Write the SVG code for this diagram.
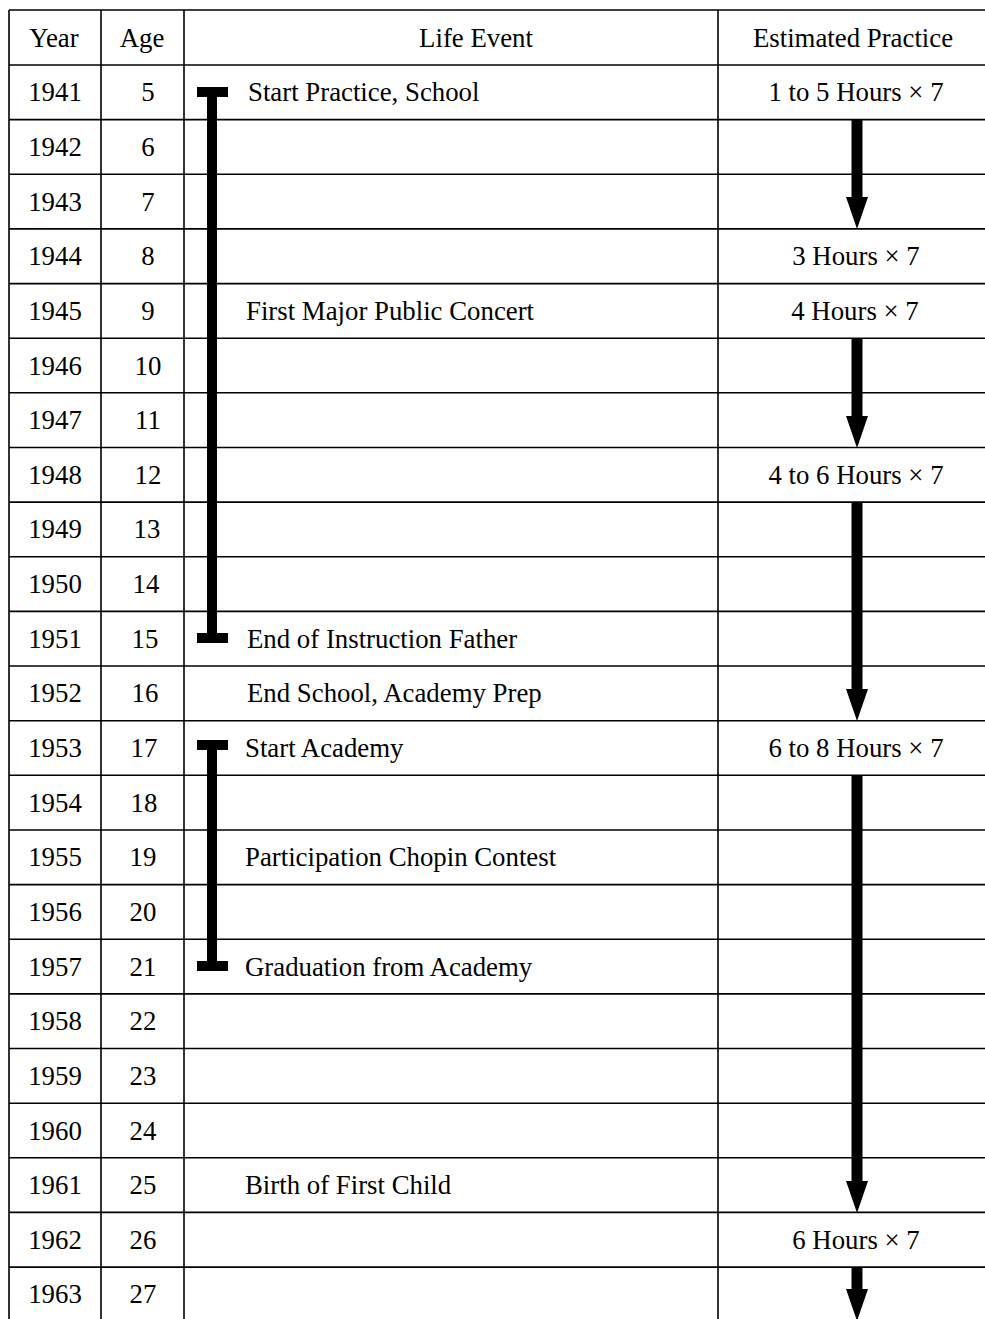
<svg xmlns="http://www.w3.org/2000/svg" width="985" height="1319" viewBox="0 0 985 1319">
<style>
text{font-family:"Liberation Serif","Times New Roman",serif;font-size:26.8px;fill:#000}
.c{text-anchor:middle}
.grid line{stroke:#000;stroke-width:1.6}
.bar{fill:#000}
.arr{stroke:#000;stroke-width:11;fill:none}
</style>
<defs>
<marker id="ah" markerUnits="userSpaceOnUse" viewBox="0 0 32 22" refX="0" refY="11" markerWidth="32" markerHeight="22" orient="auto">
<path d="M0,0 L32,11 L0,22 Z" fill="#000"/>
</marker>
</defs>
<rect width="985" height="1319" fill="#fff"/>
<g id="grid" class="grid">
<line x1="9" y1="10" x2="985" y2="10"/>
<line x1="9" y1="65" x2="985" y2="65"/>
<line x1="9" y1="119.6" x2="985" y2="119.6"/>
<line x1="9" y1="174.3" x2="985" y2="174.3"/>
<line x1="9" y1="228.9" x2="985" y2="228.9"/>
<line x1="9" y1="283.6" x2="985" y2="283.6"/>
<line x1="9" y1="338.2" x2="985" y2="338.2"/>
<line x1="9" y1="392.8" x2="985" y2="392.8"/>
<line x1="9" y1="447.5" x2="985" y2="447.5"/>
<line x1="9" y1="502.1" x2="985" y2="502.1"/>
<line x1="9" y1="556.8" x2="985" y2="556.8"/>
<line x1="9" y1="611.4" x2="985" y2="611.4"/>
<line x1="9" y1="666" x2="985" y2="666"/>
<line x1="9" y1="720.7" x2="985" y2="720.7"/>
<line x1="9" y1="775.3" x2="985" y2="775.3"/>
<line x1="9" y1="830" x2="985" y2="830"/>
<line x1="9" y1="884.6" x2="985" y2="884.6"/>
<line x1="9" y1="939.2" x2="985" y2="939.2"/>
<line x1="9" y1="993.9" x2="985" y2="993.9"/>
<line x1="9" y1="1048.5" x2="985" y2="1048.5"/>
<line x1="9" y1="1103.2" x2="985" y2="1103.2"/>
<line x1="9" y1="1157.8" x2="985" y2="1157.8"/>
<line x1="9" y1="1212.4" x2="985" y2="1212.4"/>
<line x1="9" y1="1267.1" x2="985" y2="1267.1"/>
<line x1="9" y1="10" x2="9" y2="1319"/>
<line x1="101" y1="10" x2="101" y2="1319"/>
<line x1="184" y1="10" x2="184" y2="1319"/>
<line x1="718" y1="10" x2="718" y2="1319"/>
</g>
<g id="header">
<text class="c" x="54" y="47">Year</text>
<text class="c" x="142" y="47">Age</text>
<text class="c" x="476" y="47">Life Event</text>
<text class="c" x="853" y="47">Estimated Practice</text>
</g>
<g id="years">
<text class="c" x="55" y="101.3">1941</text>
<text class="c" x="55" y="155.9">1942</text>
<text class="c" x="55" y="210.6">1943</text>
<text class="c" x="55" y="265.2">1944</text>
<text class="c" x="55" y="319.9">1945</text>
<text class="c" x="55" y="374.5">1946</text>
<text class="c" x="55" y="429.1">1947</text>
<text class="c" x="55" y="483.8">1948</text>
<text class="c" x="55" y="538.4">1949</text>
<text class="c" x="55" y="593.1">1950</text>
<text class="c" x="55" y="647.7">1951</text>
<text class="c" x="55" y="702.3">1952</text>
<text class="c" x="55" y="757">1953</text>
<text class="c" x="55" y="811.6">1954</text>
<text class="c" x="55" y="866.3">1955</text>
<text class="c" x="55" y="920.9">1956</text>
<text class="c" x="55" y="975.5">1957</text>
<text class="c" x="55" y="1030.2">1958</text>
<text class="c" x="55" y="1084.8">1959</text>
<text class="c" x="55" y="1139.5">1960</text>
<text class="c" x="55" y="1194.1">1961</text>
<text class="c" x="55" y="1248.7">1962</text>
<text class="c" x="55" y="1303.4">1963</text>
</g>
<g id="ages">
<text class="c" x="148" y="101.3">5</text>
<text class="c" x="148" y="155.9">6</text>
<text class="c" x="148" y="210.6">7</text>
<text class="c" x="148" y="265.2">8</text>
<text class="c" x="148" y="319.9">9</text>
<text class="c" x="148" y="374.5">10</text>
<text class="c" x="148" y="429.1">11</text>
<text class="c" x="148" y="483.8">12</text>
<text class="c" x="147" y="538.4">13</text>
<text class="c" x="146" y="593.1">14</text>
<text class="c" x="145" y="647.7">15</text>
<text class="c" x="145" y="702.3">16</text>
<text class="c" x="144" y="757">17</text>
<text class="c" x="144" y="811.6">18</text>
<text class="c" x="143" y="866.3">19</text>
<text class="c" x="143" y="920.9">20</text>
<text class="c" x="143" y="975.5">21</text>
<text class="c" x="143" y="1030.2">22</text>
<text class="c" x="143" y="1084.8">23</text>
<text class="c" x="143" y="1139.5">24</text>
<text class="c" x="143" y="1194.1">25</text>
<text class="c" x="143" y="1248.7">26</text>
<text class="c" x="143" y="1303.4">27</text>
</g>
<g id="events">
<text x="248" y="101.3">Start Practice, School</text>
<text x="246" y="319.9">First Major Public Concert</text>
<text x="247" y="647.7">End of Instruction Father</text>
<text x="247" y="702.3">End School, Academy Prep</text>
<text x="245" y="757">Start Academy</text>
<text x="245" y="866.3">Participation Chopin Contest</text>
<text x="245" y="975.5">Graduation from Academy</text>
<text x="245" y="1194.1">Birth of First Child</text>
</g>
<g id="practice">
<text class="c" x="856" y="101.3">1 to 5 Hours × 7</text>
<text class="c" x="856" y="265.2">3 Hours × 7</text>
<text class="c" x="855" y="319.9">4 Hours × 7</text>
<text class="c" x="856" y="483.8">4 to 6 Hours × 7</text>
<text class="c" x="856" y="757">6 to 8 Hours × 7</text>
<text class="c" x="856" y="1248.7">6 Hours × 7</text>
</g>
<g id="bracket-father">
<rect class="bar" x="197" y="87" width="31" height="10"/>
<rect class="bar" x="207" y="87" width="10" height="556"/>
<rect class="bar" x="197" y="633" width="31" height="10"/>
</g>
<g id="bracket-academy">
<rect class="bar" x="197" y="740" width="31" height="10"/>
<rect class="bar" x="207" y="740" width="10" height="231"/>
<rect class="bar" x="197" y="961" width="31" height="10"/>
</g>
<g id="connectors">
<line class="arr" x1="857" y1="120" x2="857" y2="197" marker-end="url(#ah)"/>
<line class="arr" x1="857" y1="339" x2="857" y2="416" marker-end="url(#ah)"/>
<line class="arr" x1="857" y1="503" x2="857" y2="689" marker-end="url(#ah)"/>
<line class="arr" x1="857" y1="776" x2="857" y2="1181" marker-end="url(#ah)"/>
<line class="arr" x1="857" y1="1268" x2="857" y2="1289" marker-end="url(#ah)"/>
</g>
</svg>
